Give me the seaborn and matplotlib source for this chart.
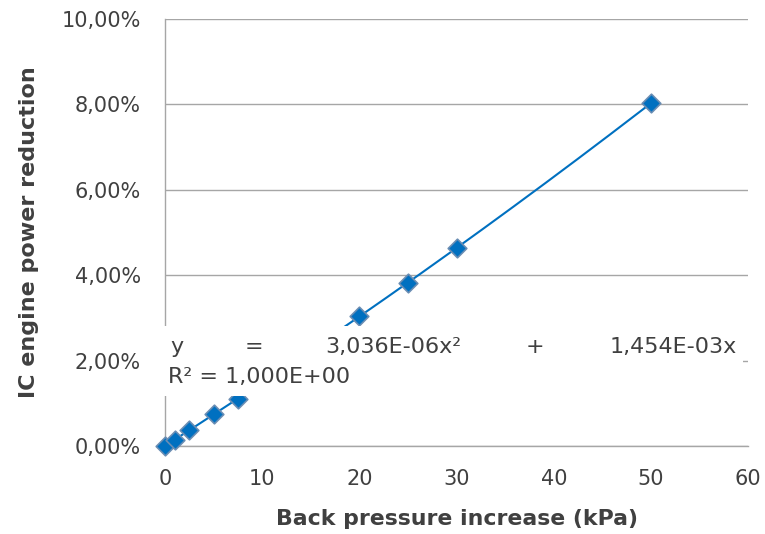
import numpy as np
import pandas as pd
import seaborn as sns
import matplotlib
matplotlib.use("Agg")
import matplotlib.pyplot as plt
from matplotlib.patches import Rectangle
from matplotlib.ticker import FuncFormatter

# Data
back_pressure = [0, 1, 2.5, 5, 7.5, 20, 25, 30, 50]           # kPa
power_reduction = [0.0, 0.15, 0.37, 0.74, 1.11, 3.04, 3.82, 4.64, 8.03]  # %
x_ticks = [0, 10, 20, 30, 40, 50, 60]
y_ticks = [0, 2, 4, 6, 8, 10]

sns.set_theme(style="white")
plt.rcParams['font.family'] = ['DejaVu Sans']

df = pd.DataFrame({"x": back_pressure, "y": power_reduction})

# trendline (2nd-order polynomial fit of the data)
coef = np.polyfit(df["x"], df["y"], 2)
xs = np.linspace(0, max(back_pressure), 200)
trend = pd.DataFrame({"x": xs, "y": np.polyval(coef, xs)})

fig = plt.figure(figsize=(7.65, 5.34), dpi=100)
ax = fig.add_axes([0.2157, 0.1648, 0.978 - 0.2157, 0.9644 - 0.1648])

blue = "#0070C0"
sns.lineplot(data=trend, x="x", y="y", ax=ax, color=blue, lw=1.5, zorder=2)
sns.scatterplot(data=df, x="x", y="y", ax=ax, marker="D", s=90, color=blue,
                edgecolor="#6A8DB3", linewidth=1.2, zorder=3, clip_on=False)

ax.set_xlim(0, 60)
ax.set_ylim(0, 10)
ax.set_xticks(x_ticks)
ax.set_yticks(y_ticks)
ax.yaxis.set_major_formatter(FuncFormatter(lambda v, p: f"{v:.2f}%".replace(".", ",")))

ax.grid(axis="y", color="#A6A6A6", lw=1.0)
ax.grid(axis="x", visible=False)
for s in ["top", "right"]:
    ax.spines[s].set_visible(False)
for s in ["left", "bottom"]:
    ax.spines[s].set_color("#A6A6A6")
    ax.spines[s].set_linewidth(1.0)

tc = "#404040"
ax.tick_params(axis="both", which="major", direction="out", length=5.5, width=1,
               color="#A6A6A6", labelsize=15, labelcolor=tc)
ax.tick_params(axis="y", pad=12)
ax.tick_params(axis="x", pad=11)

ax.set_xlabel("Back pressure increase (kPa)", fontsize=15.8, fontweight="bold",
              color=tc, labelpad=14.5)
ax.set_ylabel("IC engine power reduction", fontsize=16, fontweight="bold",
              color=tc, labelpad=16)

# white equation box covering the plot
box = Rectangle((163 / 765, 1 - 396 / 534), (743 - 163) / 765, (396 - 326) / 534,
                transform=fig.transFigure, facecolor="white", edgecolor="none", zorder=5)
fig.add_artist(box)

y1 = 1 - 347 / 534
fs = 16
fig.text(170 / 765, y1, "y", fontsize=fs, color=tc, va="center", ha="left", zorder=6)
fig.text(254 / 765, y1, "=", fontsize=fs, color=tc, va="center", ha="center", zorder=6)
fig.text(325 / 765, y1, "3,036E-06x²", fontsize=fs, color=tc, va="center", ha="left", zorder=6)
fig.text(535 / 765, y1, "+", fontsize=fs, color=tc, va="center", ha="center", zorder=6)
fig.text(737 / 765, y1, "1,454E-03x", fontsize=fs, color=tc, va="center", ha="right", zorder=6)
fig.text(168 / 765, 1 - 377 / 534, "R² = 1,000E+00", fontsize=fs, color=tc,
         va="center", ha="left", zorder=6)

fig.savefig("out.png", dpi=100)
